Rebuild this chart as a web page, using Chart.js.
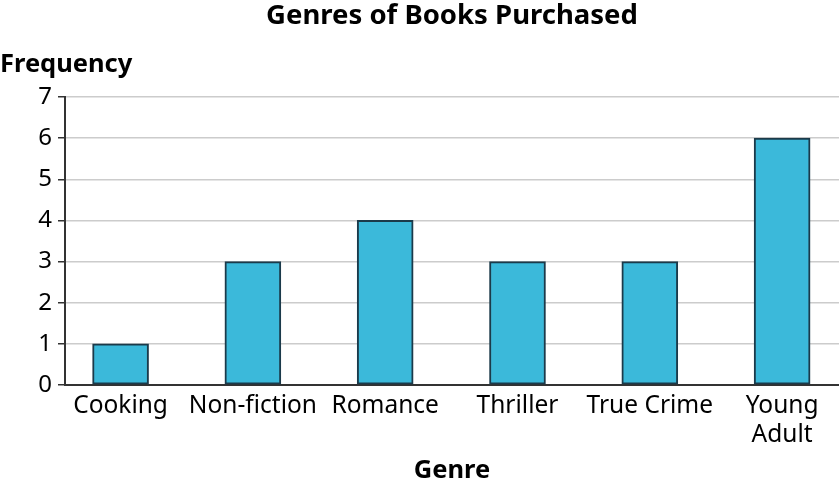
<!DOCTYPE html>
<html>
<head>
<meta charset="utf-8">
<script src="https://cdn.jsdelivr.net/npm/chart.js@4"></script>
<style>
  body { margin: 0; background: #fff; }
  #wrap { width: 839px; height: 488px; }
</style>
</head>
<body>
<div id="wrap"><canvas id="chart"></canvas></div>
<script>
const genres = ['Cooking', 'Non-fiction', 'Romance', 'Thriller', 'True Crime', ['Young', 'Adult']];
const frequency = [1, 3, 4, 3, 3, 6];
const yTicks = [0, 1, 2, 3, 4, 5, 6, 7];

const ctx = document.getElementById('chart');

// horizontal "Frequency" label over the y axis
const yLabel = {
    id: 'yLabel',
    afterDraw(chart) {
        const c = chart.ctx;
        c.save();
        c.font = 'bold 25.5px "Noto Sans"';
        c.fillStyle = '#000';
        c.textAlign = 'left';
        c.textBaseline = 'middle';
        c.fillText('Frequency', 0, 65);
        c.restore();
    }
};

Chart.defaults.color = '#000';
Chart.defaults.font.family = '"Noto Sans", sans-serif';
Chart.defaults.font.size = 24.5;

const config = {
    type: 'bar',
    data: {
        datasets: [{
            data: frequency.map((v, i) => ({ x: i, y: v })),
            backgroundColor: '#3bb9da',
            borderColor: '#1b3a4a',
            borderWidth: 2,
            borderSkipped: false,
            barThickness: 56
        }]
    },
    options: {
        responsive: true,
        maintainAspectRatio: false,
        animation: false,
        layout: { padding: 0 },
        plugins: {
            legend: { display: false },
            tooltip: { enabled: false },
            title: {
                display: true,
                fullSize: false,
                text: 'Genres of Books Purchased',
                font: { size: 27.5, weight: 'bold' },
                padding: { top: 0, bottom: 64 }
            }
        },
        scales: {
            x: {
                type: 'linear',
                offset: false,
                min: -0.42,
                max: 5.43,
                afterBuildTicks(scale) {
                    scale.ticks = genres.map((g, i) => ({ value: i }));
                },
                afterFit(scale) { scale.height = 103; },
                ticks: {
                    padding: 6,
                    autoSkip: false,
                    maxRotation: 0,
                    font: { lineHeight: 1.2 },
                    callback: (v) => genres[v]
                },
                grid: { display: false, drawTicks: false },
                border: { color: '#333', width: 2 },
                title: {
                    display: true,
                    text: 'Genre',
                    font: { size: 25.5, weight: 'bold' },
                    padding: { top: 0, bottom: 2 }
                }
            },
            y: {
                min: 0,
                max: 7,
                afterBuildTicks(scale) {
                    scale.ticks = yTicks.map(v => ({ value: v }));
                },
                afterFit(scale) { scale.width = 65; },
                ticks: { padding: 6, font: { size: 24 } },
                grid: {
                    color: '#cccccc',
                    lineWidth: 1.5,
                    tickLength: 7,
                    tickColor: '#333'
                },
                border: { color: '#333', width: 2 }
            }
        }
    },
    plugins: [yLabel]
};

const chart = new Chart(ctx, config);
</script>
</body>
</html>
